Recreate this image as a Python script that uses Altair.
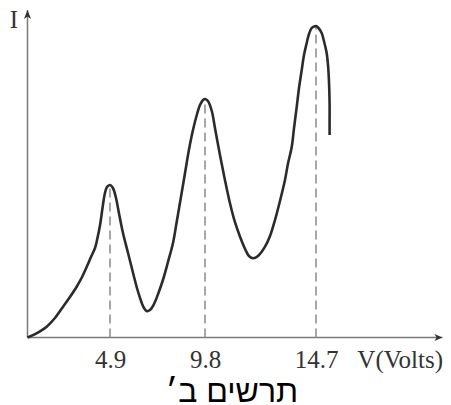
import altair as alt
import pandas as pd

# Curve: V (volts) and I (arbitrary units, axis top = 100)
volts = [0.00, 0.56, 1.14, 1.63, 2.11, 2.52, 2.92, 3.24, 3.52, 3.77, 4.01, 4.13, 4.31, 4.48, 4.60, 4.72, 4.90,
         5.05, 5.21, 5.36, 5.57, 5.83, 6.09, 6.29, 6.45, 6.60, 6.79, 6.96, 7.17, 7.38, 7.63, 7.89, 8.15, 8.34,
         8.56, 8.77, 8.97, 9.18, 9.39, 9.54, 9.70, 9.80,
         9.93, 10.10, 10.24, 10.46, 10.68, 10.90, 11.12, 11.35, 11.57, 11.74, 11.93, 12.14, 12.45, 12.67, 12.89,
         13.11, 13.33, 13.46, 13.63, 13.73, 13.85, 13.95, 14.07, 14.17, 14.29, 14.39, 14.51, 14.59, 14.70,
         14.79, 14.95, 15.05, 15.17, 15.23, 15.27, 15.30, 15.30, 15.30]
current = [0.00, 1.37, 3.30, 5.95, 9.40, 12.37, 15.51, 18.47, 21.62, 24.58, 27.33, 29.77, 34.35, 40.46, 44.12, 45.95, 46.56,
           45.65, 42.60, 38.02, 31.91, 25.80, 19.69, 15.11, 12.06, 9.62, 8.09, 8.40, 10.23, 13.28, 17.56, 23.05, 28.85, 35.27,
           42.90, 50.23, 57.25, 63.36, 68.24, 70.99, 72.52, 72.82,
           72.21, 69.16, 63.97, 55.73, 48.09, 41.07, 35.27, 30.69, 27.02, 24.89, 24.18, 24.89, 27.73, 30.99, 35.88,
           41.68, 48.09, 52.98, 58.26, 63.97, 70.47, 76.18, 81.68, 86.26, 89.92, 92.67, 94.50, 94.87, 95.11,
           94.66, 92.98, 90.53, 86.87, 83.21, 78.63, 71.60, 66.41, 61.83]

peak_v = [4.9, 9.8, 14.7]
peak_i = [46.56, 72.82, 95.11]
tick_labels = [4.9, 9.8, 14.7]

x_end = 20.28     # end of the V axis (arrow tip)
y_top = 100.0     # end of the I axis (arrow tip)

caption = "תרשים ב\u05f3"

curve = pd.DataFrame({"V": volts, "I": current, "order": list(range(len(volts)))})
peaks = pd.DataFrame({"V": peak_v, "I0": [0.0] * 3, "I": peak_i})
xaxis = pd.DataFrame({"V": [0.0], "V2": [x_end], "I": [0.0]})
yaxis = pd.DataFrame({"V": [0.0], "I": [0.0], "I2": [y_top]})
right_arrow = pd.DataFrame({"V": [x_end], "I": [0.0]})
up_arrow = pd.DataFrame({"V": [0.0], "I": [y_top]})

W, H = 415, 327.5

xscale = alt.Scale(domain=[0, 4.9, 9.8, 14.7], range=[0, 82.5, 177.5, 288.5], nice=False, zero=False)
yscale = alt.Scale(domain=[0, 100], nice=False, zero=False)

X = alt.X("V:Q", scale=xscale,
          axis=alt.Axis(values=tick_labels, format=".1f", domain=False, ticks=False, grid=False,
                        labelFont="Liberation Serif", labelFontSize=25, labelColor="#333333",
                        labelBaseline="alphabetic", labelPadding=29.5, labelFlush=False,
                        title="V(Volts)", titleFont="Liberation Serif", titleFontSize=25,
                        titleFontWeight="normal", titleColor="#333333", titleAlign="right",
                        titleBaseline="alphabetic", titleX=415, titleY=29.5, titleAnchor="end"))
Y = alt.Y("I:Q", scale=yscale,
          axis=alt.Axis(labels=False, domain=False, ticks=False, grid=False,
                        title="I", titleFont="Liberation Serif", titleFontSize=25,
                        titleFontWeight="normal", titleColor="#333333", titleAngle=0,
                        titleAlign="center", titleBaseline="alphabetic", titleX=-14, titleY=17))

axis_color = "#7a7a7a"

x_line = alt.Chart(xaxis).mark_rule(color=axis_color, strokeWidth=1.5).encode(
    x=X, x2="V2:Q", y=alt.Y("I:Q", scale=yscale))
y_line = alt.Chart(yaxis).mark_rule(color=axis_color, strokeWidth=1.5).encode(
    x=alt.X("V:Q", scale=xscale), y=Y, y2="I2:Q")

arrow_r = alt.Chart(right_arrow).mark_point(
    shape="M0,0 L-2,-0.85 L-1.45,0 L-2,0.85 Z", size=64, filled=True, color="#333333", opacity=1, strokeWidth=0
).encode(x=alt.X("V:Q", scale=xscale), y=alt.Y("I:Q", scale=yscale))
arrow_u = alt.Chart(up_arrow).mark_point(
    shape="M0,0 L-0.8,2 L0,1.45 L0.8,2 Z", size=81, filled=True, color="#333333", opacity=1, strokeWidth=0
).encode(x=alt.X("V:Q", scale=xscale), y=alt.Y("I:Q", scale=yscale))

dashes = alt.Chart(peaks).mark_rule(color="#8a8a8a", strokeWidth=1.5, strokeDash=[9, 5]).encode(
    x=alt.X("V:Q", scale=xscale), y=alt.Y("I0:Q", scale=yscale), y2="I:Q")

line = alt.Chart(curve).mark_line(color="#2b2b2b", strokeWidth=2.6, interpolate="catmull-rom").encode(
    x=alt.X("V:Q", scale=xscale), y=alt.Y("I:Q", scale=yscale), order="order:Q")

chart = alt.layer(x_line, y_line, dashes, line, arrow_r, arrow_u).properties(
    width=W, height=H,
    title=alt.TitleParams(text=caption, orient="bottom", anchor="middle", baseline="alphabetic",
                          font="Liberation Sans", fontSize=32, fontWeight="normal", color="#000000",
                          offset=30, dx=-3),
    autosize=alt.AutoSizeParams(type="none"),
    padding={"left": 19.5, "top": 2, "right": 0.5, "bottom": 67.5},
).configure_view(stroke=None)

chart.save("out.html", embed_options={"renderer": "svg", "actions": False})
